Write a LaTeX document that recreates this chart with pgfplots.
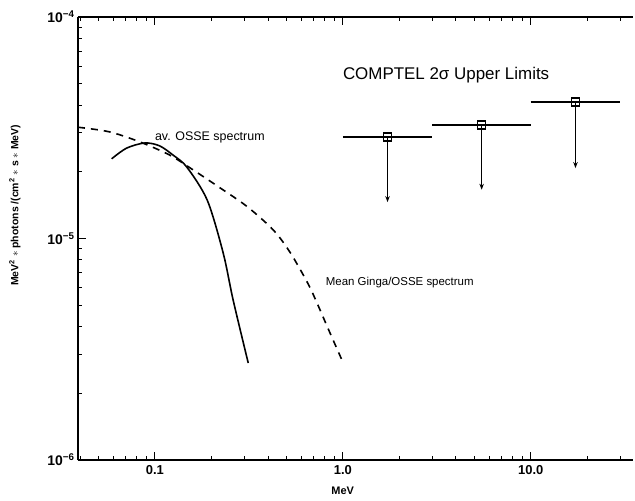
\documentclass[border=0pt]{standalone}
\usepackage{pgfplots}
\pgfplotsset{compat=1.18}
\usepackage{fontspec}
\setmainfont{Liberation Sans}
\usetikzlibrary{arrows.meta}

\begin{document}
\begin{tikzpicture}
\useasboundingbox (-78bp,-41bp) rectangle (557bp,460bp);
\begin{axis}[
  at={(0,0)}, anchor=south west,
  scale only axis,
  width=555bp, height=443bp,
  xmode=log, ymode=log,
  xmin=0.039, xmax=35,
  ymin=1e-6, ymax=1e-4,
  axis x line*=box, axis y line*=left,
  axis line style={line width=1.3pt},
  tick align=inside,
  major tick length=8bp, minor tick length=4bp,
  every tick/.style={black, line width=1pt},
  xtick={0.1,1,10},
  xticklabels={0.1,1.0,10.0},
  minor xtick={0.04,0.05,0.06,0.07,0.08,0.09,0.2,0.3,0.4,0.5,0.6,0.7,0.8,0.9,2,3,4,5,6,7,8,9,20,30},
  ytick={1e-6,1e-5,1e-4},
  yticklabels={10\textsuperscript{−6},10\textsuperscript{−5},10\textsuperscript{−4}},
  minor ytick={2e-6,3e-6,4e-6,5e-6,6e-6,7e-6,8e-6,9e-6,2e-5,3e-5,4e-5,5e-5,6e-5,7e-5,8e-5,9e-5},
  xticklabel style={font=\fontsize{13}{15}\selectfont\bfseries, yshift=-2bp},
  yticklabel style={font=\fontsize{14}{16}\selectfont\bfseries},
  xlabel={MeV},
  xlabel style={at={(axis description cs:0.477,-0.07)}, anchor=center, font=\fontsize{11}{13}\selectfont\bfseries},
  ylabel={MeV\textsuperscript{2} $\ast$ photons /(cm\textsuperscript{2} $\ast$ s $\ast$ MeV)},
  ylabel style={at={(axis description cs:-0.1135,0.575)}, anchor=center, font=\fontsize{10.5}{12}\selectfont\bfseries},
  clip=false,
]
% av. OSSE spectrum (solid)
\addplot[black, line width=1.6pt, smooth] coordinates {
  (0.0589,2.29e-5) (0.0708,2.56e-5) (0.0885,2.70e-5) (0.106,2.62e-5)
  (0.125,2.38e-5) (0.148,2.10e-5) (0.190,1.49e-5) (0.231,8.6e-6)
  (0.261,5.27e-6) (0.314,2.74e-6)
};
% Mean Ginga/OSSE spectrum (dashed)
\addplot[black, line width=1.6pt, smooth, dash pattern=on 7bp off 6bp] coordinates {
  (0.039,3.18e-5) (0.0574,3.03e-5) (0.0832,2.73e-5) (0.120,2.38e-5)
  (0.160,2.04e-5) (0.223,1.69e-5) (0.311,1.39e-5) (0.428,1.09e-5)
  (0.527,8.6e-6) (0.650,6.3e-6) (0.718,5.27e-6) (0.842,3.86e-6)
  (1.0,2.77e-6)
};
% COMPTEL upper limits: energy bins
\addplot[black, line width=1.4pt] coordinates {(1.0,2.87e-5) (3.0,2.87e-5)};
\addplot[black, line width=1.4pt] coordinates {(3.0,3.25e-5) (10.0,3.25e-5)};
\addplot[black, line width=1.4pt] coordinates {(10.0,4.13e-5) (30.0,4.13e-5)};
% arrows
\addplot[black, line width=1.2pt, -{Stealth[length=6bp,width=4.5bp]}] coordinates {(1.73,2.87e-5) (1.73,1.46e-5)};
\addplot[black, line width=1.2pt, -{Stealth[length=6bp,width=4.5bp]}] coordinates {(5.48,3.25e-5) (5.48,1.66e-5)};
\addplot[black, line width=1.2pt, -{Stealth[length=6bp,width=4.5bp]}] coordinates {(17.3,4.13e-5) (17.3,2.08e-5)};
\addplot[black, only marks, mark=square, mark size=4bp, mark options={line width=1.3pt, fill=white}] coordinates {
  (1.73,2.87e-5) (5.48,3.25e-5) (17.3,4.13e-5)
};
\node[anchor=west, font=\fontsize{12.5}{14}\selectfont, inner sep=0pt] at (axis cs:0.1,2.87e-5) {av. OSSE spectrum};
\node[anchor=west, font=\fontsize{11.5}{13}\selectfont, inner sep=0pt] at (axis cs:0.811,6.3e-6) {Mean Ginga/OSSE spectrum};
\node[anchor=west, font=\fontsize{17}{20}\selectfont, inner sep=0pt] at (axis cs:1.0,5.47e-5) {COMPTEL 2σ Upper Limits};
\end{axis}
\end{tikzpicture}
\end{document}
